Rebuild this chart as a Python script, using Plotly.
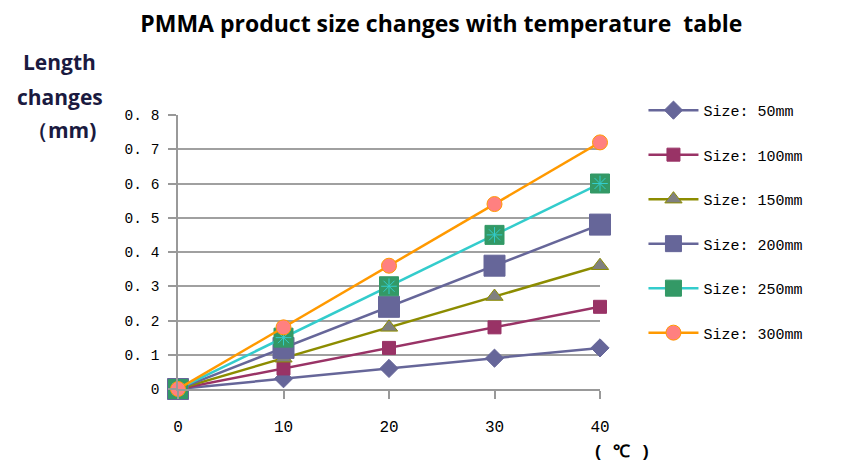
import plotly.graph_objects as go

temps = [0, 10, 20, 30, 40]
series_names = ["Size: 50mm", "Size: 100mm", "Size: 150mm", "Size: 200mm", "Size: 250mm", "Size: 300mm"]
size_50 = [0, 0.03, 0.06, 0.09, 0.12]
size_100 = [0, 0.06, 0.12, 0.18, 0.24]
size_150 = [0, 0.09, 0.18, 0.27, 0.36]
size_200 = [0, 0.12, 0.24, 0.36, 0.48]
size_250 = [0, 0.15, 0.30, 0.45, 0.60]
size_300 = [0, 0.18, 0.36, 0.54, 0.72]
y_ticks = [0, 0.1, 0.2, 0.3, 0.4, 0.5, 0.6, 0.7, 0.8]
y_tick_text = ["0", "0. 1", "0. 2", "0. 3", "0. 4", "0. 5", "0. 6", "0. 7", "0. 8"]
x_ticks = [0, 10, 20, 30, 40]

values = [size_50, size_100, size_150, size_200, size_250, size_300]
line_colors = ["#666699", "#993366", "#8C8C00", "#666699", "#33CCCC", "#FF9900"]
marker_fill = ["#666699", "#993366", "#808080", "#666699", "#339966", "#FF8080"]
marker_line = ["#666699", "#993366", "#8C8C00", "#666699", "#339966", "#FF9900"]
symbols = ["diamond", "square", "triangle-up", "square", "square", "circle"]
msizes = [14, 13, 15, 21, 19, 15]

fig = go.Figure()
for i, (name, vals) in enumerate(zip(series_names, values)):
    fig.add_trace(go.Scatter(
        x=temps, y=vals, name=name, mode="lines+markers",
        legendgroup=name,
        line=dict(color=line_colors[i], width=2.5),
        marker=dict(symbol=symbols[i], size=msizes[i], color=marker_fill[i],
                    line=dict(color=marker_line[i], width=1)),
        cliponaxis=False,
    ))
    if i == 4:
        fig.add_trace(go.Scatter(
            x=temps, y=vals, mode="markers", showlegend=False, legendgroup=name,
            marker=dict(symbol="asterisk-open", size=13, color="#33CCCC",
                        line=dict(color="#33CCCC", width=1)),
            cliponaxis=False, hoverinfo="skip",
        ))

x_tick_font = dict(family="Liberation Mono", size=16, color="black")
y_tick_font = dict(family="Liberation Mono", size=14.5, color="black")
label_font = dict(family="Open Sans", size=21, color="#1a1a40")

fig.update_layout(
    width=858, height=468,
    paper_bgcolor="white", plot_bgcolor="white",
    margin=dict(l=170, r=266, t=107, b=87),
    title=dict(text="<b>PMMA product size changes with temperature  table</b>",
               x=0.505, xanchor="center", y=0.966, yanchor="middle",
               font=dict(family="Open Sans", size=23, color="black")),
    legend=dict(x=1.103, xanchor="left", y=1.077, yanchor="top",
                font=dict(family="Liberation Mono", size=15, color="black"),
                itemwidth=50, tracegroupgap=22, bgcolor="rgba(0,0,0,0)",
                maxheight=420),
    xaxis=dict(range=[0, 40], tickvals=x_ticks, showgrid=False, zeroline=False,
               showline=True, linecolor="#999999", linewidth=1.5,
               ticks="outside", ticklen=8, tickcolor="#999999", tickwidth=1.5,
               ticklabelstandoff=14, tickfont=x_tick_font),
    yaxis=dict(range=[0, 0.8], tickvals=y_ticks, ticktext=y_tick_text,
               showgrid=True, gridcolor="#A0A0A0", gridwidth=1.5, zeroline=False,
               showline=True, linecolor="#999999", linewidth=1.5,
               ticks="outside", ticklen=8, tickcolor="#999999", tickwidth=1.5,
               ticklabelstandoff=6, tickfont=y_tick_font),
    annotations=[
        dict(text="<b>Length</b>", xref="paper", yref="paper",
             x=-0.28, y=1.193, xanchor="center", yanchor="middle", showarrow=False,
             font=label_font),
        dict(text="<b>changes</b>", xref="paper", yref="paper",
             x=-0.28, y=1.066, xanchor="center", yanchor="middle", showarrow=False,
             font=label_font),
        dict(text="<b>（mm)</b>", xref="paper", yref="paper",
             x=-0.275, y=0.945, xanchor="center", yanchor="middle", showarrow=False,
             font=label_font),
        dict(text="<b>( ℃ )</b>", xref="paper", yref="paper", x=1.052, y=-0.23,
             xanchor="center", yanchor="middle", showarrow=False,
             font=dict(family="Liberation Mono", size=17, color="black")),
    ],
)

fig.write_html("out.html")
